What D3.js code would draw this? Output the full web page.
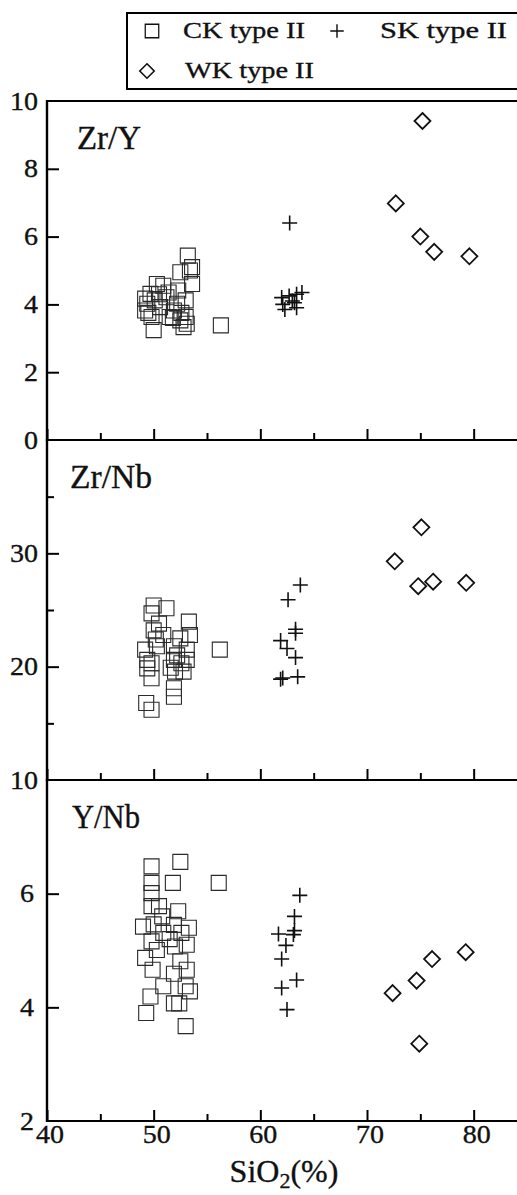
<!DOCTYPE html>
<html>
<head>
<meta charset="utf-8">
<script src="https://cdn.jsdelivr.net/npm/d3@7"></script>
<style>
  body { margin: 0; background: #fff; }
  svg { display: block; }
  text { font-family: "Liberation Serif", "Times New Roman", serif; fill: #111; stroke: #111; stroke-width: 0.35px; }
</style>
</head>
<body>
<svg id="chart" width="517" height="1195"></svg>
<script>
// SiO2 axis ticks
const siO2Major = [40, 50, 60, 70, 80];
const siO2Minor = [45, 55, 65, 75];

// Panel ratio names and y tick values
const ratioNames = ["Zr/Y", "Zr/Nb", "Y/Nb"];
const zrYMajor = [2, 4, 6, 8];
const zrYLabels = [0, 2, 4, 6, 8, 10];
const zrNbMajor = [20, 30];
const zrNbMinor = [15, 25, 35];
const zrNbLabels = [10, 20, 30];
const yNbMajor = [4, 6];
const yNbLabels = [2, 4, 6];

// CK type II: [SiO2, ratio]
const ckZrY = [
  [56.3,3.38],[53.2,5.44],[53.6,5.1],[53.4,5.0],[52.5,4.95],[53.6,4.6],[52.3,4.41],
  [50.3,4.6],[50.9,4.55],[49.7,4.31],[49.4,4.02],[49.2,3.82],[50.0,3.24],[51.2,4.21],
  [51.9,3.82],[52.5,3.53],[53.0,3.63],[52.2,4.02],[53.0,4.12],[50.1,4.12],[50.6,3.92],
  [49.8,3.63],[49.2,4.17],[51.5,3.63],[52.8,3.33],[53.1,3.43],[49.5,3.75],[51.8,3.6],
  [52.6,3.75],[50.5,4.3],[51.4,4.35]
];
const ckZrNb = [
  [56.2,21.5],[50.0,25.4],[51.2,25.15],[49.8,24.7],[53.3,23.97],[50.5,23.8],[50.0,23.2],
  [50.9,22.8],[53.4,22.8],[52.5,22.5],[49.2,21.5],[50.3,21.8],[51.9,21.8],[53.1,21.5],
  [49.4,20.6],[49.8,20.3],[51.9,20.6],[52.6,20.3],[53.1,20.6],[49.4,19.85],[52.0,19.56],
  [52.8,19.56],[49.8,18.98],[51.9,18.1],[51.9,17.35],[49.3,16.8],[49.8,16.2],[50.2,22.4],
  [52.2,21.0],[51.6,19.9]
];
const ckYNb = [
  [49.8,6.48],[52.5,6.56],[56.1,6.19],[51.8,6.19],[49.8,6.19],[49.8,6.01],[49.8,5.78],
  [50.5,5.78],[52.3,5.69],[50.8,5.6],[49.0,5.42],[50.0,5.46],[51.9,5.45],[53.3,5.4],
  [52.6,5.31],[50.9,5.31],[49.8,5.16],[51.5,5.2],[53.1,5.1],[52.0,5.07],[50.3,5.01],
  [49.2,4.87],[52.5,4.81],[49.9,4.66],[53.1,4.66],[51.9,4.59],[50.9,4.37],[53.0,4.37],
  [53.4,4.28],[49.7,4.19],[51.9,4.07],[52.4,4.07],[49.3,3.9],[53.0,3.67]
];

// SK type II: [SiO2, ratio]
const skZrY = [
  [62.75,6.4],[62.1,4.0],[62.3,3.85],[62.7,4.25],[63.4,4.3],[63.9,4.35],[63.4,3.9],
  [63.0,4.1],[62.0,4.2],[63.2,4.05]
];
const skZrNb = [
  [63.75,27.2],[62.6,25.9],[63.3,23.3],[63.3,22.95],[61.9,22.3],[62.5,21.6],[63.3,20.8],
  [62.1,19.0],[63.5,19.1],[61.9,18.9]
];
const skYNb = [
  [63.7,5.97],[63.2,5.6],[63.2,5.35],[61.7,5.29],[63.1,5.28],[62.4,5.09],[62.0,4.85],
  [63.4,4.48],[62.0,4.34],[62.5,3.96]
];

// WK type II: [SiO2, ratio]
const wkZrY = [[72.7,6.98],[75.2,9.41],[75.0,6.0],[76.3,5.55],[79.6,5.42]];
const wkZrNb = [[72.6,29.3],[75.1,32.3],[74.8,27.1],[76.2,27.5],[79.3,27.4]];
const wkYNb = [[72.4,4.25],[74.9,3.36],[74.65,4.47],[76.1,4.85],[79.25,4.97]];

const legendNames = ["CK type II", "SK type II", "WK type II"];

// ---- layout ----
const svg = d3.select("#chart");
const left = 47, rightEdge = 527;
const x = d3.scaleLinear().domain([40, 85]).range([left, rightEdge]);

const panels = [
  { name: ratioNames[0], domain: [0, 10], top: 101, bottom: 440, major: zrYMajor, minor: [], labels: zrYLabels,
    ck: ckZrY, sk: skZrY, wk: wkZrY, labelPad: 9, nameX: 77, nameLen: 64 },
  { name: ratioNames[1], domain: [10, 40], top: 440, bottom: 780, major: zrNbMajor, minor: zrNbMinor, labels: zrNbLabels,
    ck: ckZrNb, sk: skZrNb, wk: wkZrNb, labelPad: 9, nameX: 70, nameLen: 82 },
  { name: ratioNames[2], domain: [2, 8], top: 780, bottom: 1121, major: yNbMajor, minor: [], labels: yNbLabels,
    ck: ckYNb, sk: skYNb, wk: wkYNb, labelPad: 13, nameX: 72, nameLen: 68 }
];

const half = 7.5;
const sqPath = `M${-half},${-half}h${2*half}v${2*half}h${-2*half}Z`;
const crossPath = `M${-half},0h${2*half}M0,${-half}v${2*half}`;
const dh = 8;
const diaPath = `M0,${-dh}L${dh},0L0,${dh}L${-dh},0Z`;

panels.forEach(p => {
  const y = d3.scaleLinear().domain(p.domain).range([p.bottom, p.top]);
  const g = svg.append("g");

  // x ticks along the panel bottom, pointing inward
  g.append("g").attr("transform", `translate(0,${p.bottom})`)
    .call(d3.axisBottom(x).tickValues(siO2Major).tickSize(-11).tickFormat(""))
    .call(a => a.select(".domain").remove())
    .call(a => a.selectAll("line").attr("stroke", "#000").attr("stroke-width", 2));
  g.append("g").attr("transform", `translate(0,${p.bottom})`)
    .call(d3.axisBottom(x).tickValues(siO2Minor).tickSize(-7).tickFormat(""))
    .call(a => a.select(".domain").remove())
    .call(a => a.selectAll("line").attr("stroke", "#000").attr("stroke-width", 2));

  // y ticks pointing inward
  g.append("g").attr("transform", `translate(${left},0)`)
    .call(d3.axisLeft(y).tickValues(p.major).tickSize(-12).tickFormat(""))
    .call(a => a.select(".domain").remove())
    .call(a => a.selectAll("line").attr("stroke", "#000").attr("stroke-width", 2));
  if (p.minor.length) {
    g.append("g").attr("transform", `translate(${left},0)`)
      .call(d3.axisLeft(y).tickValues(p.minor).tickSize(-7).tickFormat(""))
      .call(a => a.select(".domain").remove())
      .call(a => a.selectAll("line").attr("stroke", "#000").attr("stroke-width", 2));
  }

  // y tick labels
  g.selectAll("text.ylab").data(p.labels).join("text")
    .attr("class", "ylab")
    .attr("x", left - p.labelPad)
    .attr("y", d => y(d) + 8.5)
    .attr("text-anchor", "end")
    .attr("font-size", 26)
    .attr("textLength", d => String(d).length * 14)
    .attr("lengthAdjust", "spacingAndGlyphs")
    .text(d => d);

  // frame lines
  g.append("line").attr("x1", left).attr("x2", rightEdge + 10)
    .attr("y1", y(p.domain[1])).attr("y2", y(p.domain[1]))
    .attr("stroke", "#000").attr("stroke-width", 2);
  g.append("line").attr("x1", left).attr("x2", rightEdge + 10)
    .attr("y1", y(p.domain[0])).attr("y2", y(p.domain[0]))
    .attr("stroke", "#000").attr("stroke-width", 2.2);
  g.append("line").attr("x1", left).attr("x2", left)
    .attr("y1", y(p.domain[1]) - 1).attr("y2", y(p.domain[0]) + 1)
    .attr("stroke", "#000").attr("stroke-width", 2.4);

  // panel name
  g.append("text")
    .attr("x", p.nameX).attr("y", p.top + 48)
    .attr("font-size", 33)
    .attr("textLength", p.nameLen).attr("lengthAdjust", "spacingAndGlyphs")
    .text(p.name);

  // markers
  g.selectAll("path.ck").data(p.ck).join("path").attr("class", "ck")
    .attr("d", sqPath)
    .attr("transform", d => `translate(${x(d[0])},${y(d[1])})`)
    .attr("fill", "none").attr("stroke", "#2a2a2a").attr("stroke-width", 1.1);
  g.selectAll("path.sk").data(p.sk).join("path").attr("class", "sk")
    .attr("d", crossPath)
    .attr("transform", d => `translate(${x(d[0])},${y(d[1])})`)
    .attr("fill", "none").attr("stroke", "#111").attr("stroke-width", 1.6);
  g.selectAll("path.wk").data(p.wk).join("path").attr("class", "wk")
    .attr("d", diaPath)
    .attr("transform", d => `translate(${x(d[0])},${y(d[1])})`)
    .attr("fill", "none").attr("stroke", "#111").attr("stroke-width", 1.8);
});

// x tick labels under the last panel
svg.selectAll("text.xlab").data(siO2Major).join("text")
  .attr("class", "xlab")
  .attr("x", d => x(d) + 3)
  .attr("y", 1143)
  .attr("text-anchor", "middle")
  .attr("font-size", 25)
  .attr("textLength", 28).attr("lengthAdjust", "spacingAndGlyphs")
  .text(d => d);

// x axis title
const xt = svg.append("text").attr("x", 284).attr("y", 1182)
  .attr("text-anchor", "middle").attr("font-size", 32);
xt.append("tspan").text("SiO");
xt.append("tspan").attr("font-size", 22).attr("dy", 6).text("2");
xt.append("tspan").attr("dy", -6).text("(%)");

// legend
const lg = svg.append("g");
lg.append("rect").attr("x", 127).attr("y", 13).attr("width", 420).attr("height", 76)
  .attr("fill", "#fff").attr("stroke", "#000").attr("stroke-width", 2);
lg.append("path").attr("d", sqPath).attr("transform", "translate(152,31) scale(0.9)")
  .attr("fill", "none").attr("stroke", "#111").attr("stroke-width", 1.4);
lg.append("path").attr("d", crossPath).attr("transform", "translate(337,31) scale(0.9)")
  .attr("fill", "none").attr("stroke", "#111").attr("stroke-width", 1.6);
lg.append("path").attr("d", diaPath).attr("transform", "translate(147,71) scale(0.9)")
  .attr("fill", "none").attr("stroke", "#111").attr("stroke-width", 1.8);
const legendPos = [[183, 38, 122], [380, 38, 127], [185, 78, 129]];
legendNames.forEach((n, i) => {
  lg.append("text").attr("x", legendPos[i][0]).attr("y", legendPos[i][1])
    .attr("font-size", 24)
    .attr("textLength", legendPos[i][2]).attr("lengthAdjust", "spacingAndGlyphs")
    .text(n);
});
</script>
</body>
</html>
